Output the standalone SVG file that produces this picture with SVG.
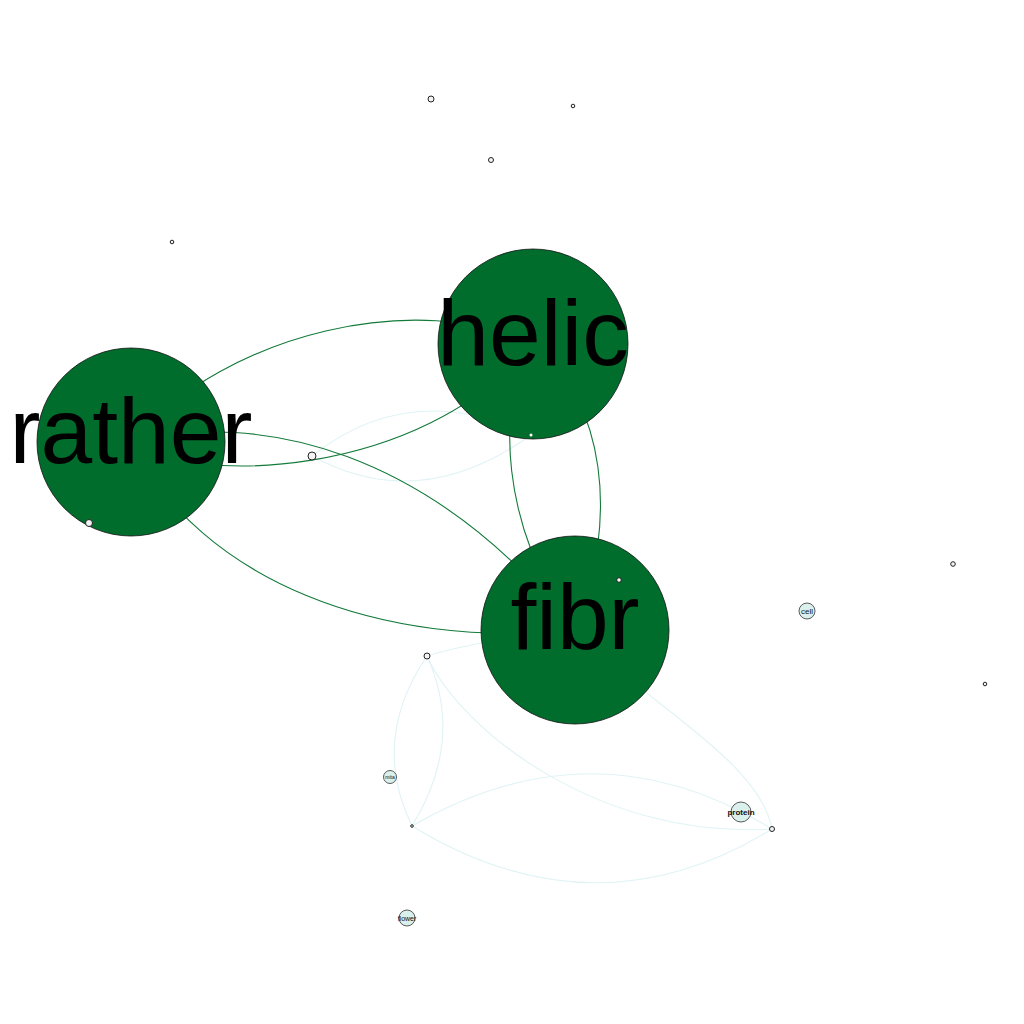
<svg xmlns="http://www.w3.org/2000/svg" width="1024" height="1024" viewBox="0 0 1024 1024">
<style>
.e{fill:none;stroke-width:1.1}
.d{stroke:#137a3a}
.l{stroke:#e0f3f5}
.big{fill:#006d2c;stroke:#111;stroke-width:0.8}
.sm{fill:#daf0ec;stroke:#333;stroke-width:0.8}
.tn{fill:#f4f4f4;stroke:#222;stroke-width:1}
.bt{font-family:"Liberation Sans",Arial,sans-serif;font-size:93px;fill:#000;text-anchor:middle}
.st{font-family:"Liberation Sans",Arial,sans-serif;fill:#111;text-anchor:middle}
</style>
<rect width="1024" height="1024" fill="#fff"/>
<g id="connectors">
<path class="e l" d="M312,456 Q410,378 531,435"/>
<path class="e l" d="M312,456 Q420,515 531,435"/>
<path class="e l" d="M427,656 Q480,640 575,630"/>
<path class="e l" d="M427,656 Q370,740 412,826"/>
<path class="e l" d="M427,656 Q465,740 412,826"/>
<path class="e l" d="M427,656 C460,730 600,840 772,829"/>
<path class="e l" d="M575,630 C640,700 760,760 772,829"/>
<path class="e l" d="M412,826 Q595,720 772,829"/>
<path class="e l" d="M412,826 Q595,938 772,829"/>
<path class="e d" d="M131,442 C230,330 420,290 533,344"/>
<path class="e d" d="M131,442 C190,485 420,480 533,344"/>
<path class="e d" d="M131,442 C260,410 430,450 575,630"/>
<path class="e d" d="M131,442 C200,580 380,650 575,630"/>
<path class="e d" d="M533,344 C495,400 500,530 575,630"/>
<path class="e d" d="M533,344 C605,400 620,520 575,630"/>
</g>
<g id="node-rather"><circle class="big" cx="131" cy="442" r="94"/><text class="bt" x="131" y="463">rather</text></g>
<g id="node-helic"><circle class="big" cx="533" cy="344" r="95"/><text class="bt" x="533" y="365">helic</text></g>
<g id="node-fibr"><circle class="big" cx="575" cy="630" r="94"/><text class="bt" x="575" y="649">fibr</text></g>
<g id="node-cell"><circle class="sm" cx="807" cy="611" r="8"/><text class="st" x="807" y="614" font-size="8">cell</text></g>
<g id="node-protein"><circle class="sm" cx="741" cy="812" r="10"/><text class="st" x="741" y="815" font-size="8" font-weight="bold">protein</text></g>
<g id="node-flower"><circle class="sm" cx="407" cy="918" r="8"/><text class="st" x="407" y="920.5" font-size="7">flower</text></g>
<g id="node-mita"><circle class="sm" cx="390" cy="777" r="6.5"/><text class="st" x="390" y="779" font-size="5">mita</text></g>
<g id="node-t1"><circle class="tn" cx="431" cy="99" r="3"/></g>
<g id="node-t2"><circle class="tn" cx="573" cy="106" r="1.8"/></g>
<g id="node-t3"><circle class="tn" cx="491" cy="160" r="2.5"/></g>
<g id="node-t4"><circle class="tn" cx="172" cy="242" r="1.8"/></g>
<g id="node-t5"><circle class="tn" cx="312" cy="456" r="4"/></g>
<g id="node-t6"><circle class="tn" cx="89" cy="523" r="3.5"/></g>
<g id="node-t7"><circle cx="531" cy="435" r="1.5" fill="#fff"/></g>
<g id="node-t8"><circle class="tn" cx="619" cy="580" r="2.3"/></g>
<g id="node-t9"><circle class="tn" cx="953" cy="564" r="2.3"/></g>
<g id="node-t10"><circle class="tn" cx="985" cy="684" r="1.8"/></g>
<g id="node-t11"><circle class="tn" cx="427" cy="656" r="3"/></g>
<g id="node-t12"><circle class="tn" cx="412" cy="826" r="1.3"/></g>
<g id="node-t13"><circle class="tn" cx="772" cy="829" r="2.5"/></g>
</svg>
